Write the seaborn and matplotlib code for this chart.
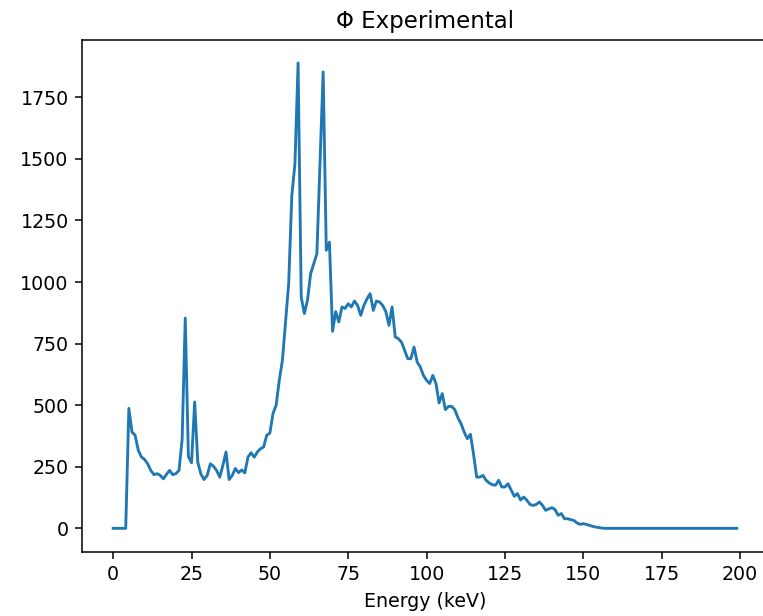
import numpy as np
import pandas as pd
import matplotlib
matplotlib.use("Agg")
import matplotlib.pyplot as plt
import seaborn as sns

# energy bins (keV), one per keV
energy = np.arange(0, 200)

# counts, 0..156 keV; everything above is zero
counts_low = [
    0, 0, 0, 0, 0, 487, 391, 378, 317, 290,
    280, 262, 235, 218, 222, 215, 201, 219, 235, 218,
    222, 235, 360, 854, 291, 266, 513, 268, 220, 198,
    215, 262, 252, 235, 208, 255, 310, 198, 215, 243,
    226, 237, 225, 289, 307, 289, 310, 323, 330, 378,
    387, 466, 500, 601, 682, 838, 993, 1350, 1480, 1890,
    939, 872, 926, 1034, 1075, 1115, 1483, 1853, 1129, 1162,
    800, 880, 838, 899, 893, 912, 899, 923, 905, 865,
    905, 932, 953, 885, 923, 919, 905, 880, 824, 899,
    777, 770, 756, 723, 689, 689, 736, 675, 655, 621,
    601, 588, 621, 588, 509, 547, 482, 495, 495, 482,
    449, 425, 391, 364, 382, 300, 208, 208, 215, 195,
    184, 177, 175, 195, 168, 168, 181, 155, 130, 141,
    115, 127, 114, 97, 93, 97, 107, 93, 73, 79,
    84, 76, 53, 60, 39, 39, 35, 32, 22, 16,
    19, 16, 12, 8, 5, 3, 1,
]
counts = counts_low + [0] * (len(energy) - len(counts_low))

df = pd.DataFrame({"energy": energy, "phi": counts})

dpi = 137
fig = plt.figure(figsize=(763 / dpi, 616 / dpi), dpi=dpi)
ax = fig.add_axes([82 / 763, (616 - 551.6) / 616, 686 / 763, 512 / 616])

sns.lineplot(data=df, x="energy", y="phi", ax=ax, color="#1f77b4", linewidth=1.5)

ax.set_yticks([0, 250, 500, 750, 1000, 1250, 1500, 1750])
ax.set_xticks([0, 25, 50, 75, 100, 125, 150, 175, 200])
ax.set_xlim(-9.95, 208.95)
ax.set_ylim(-94.5, 1984.5)
ax.set_title("Φ Experimental")
ax.set_xlabel("Energy (keV)")
ax.set_ylabel("")

fig.savefig("out.png", dpi=dpi, facecolor="white")
